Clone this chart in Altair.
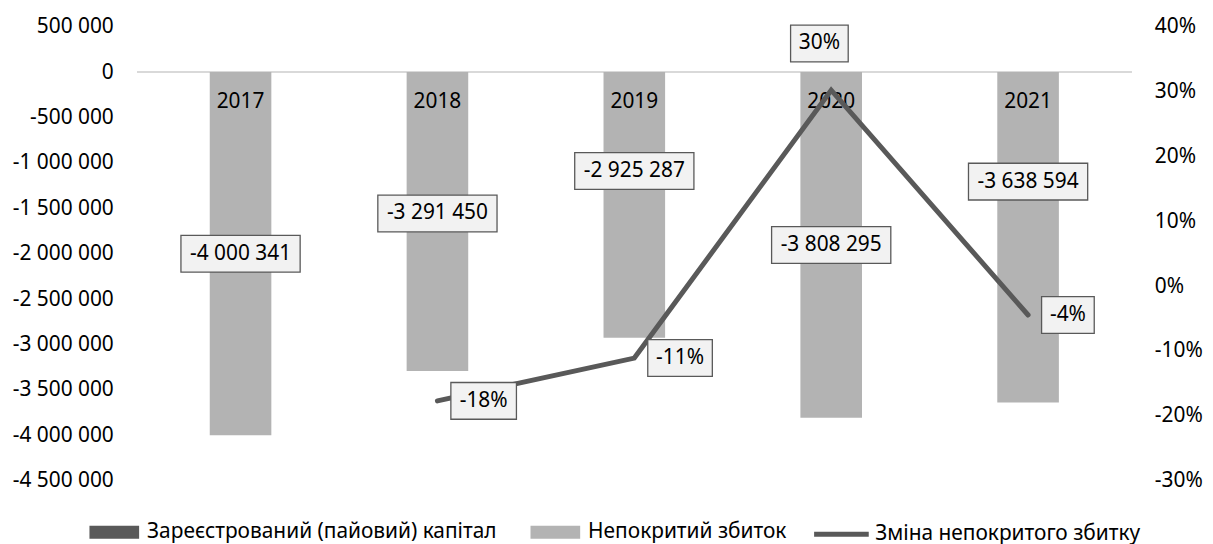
import altair as alt
import pandas as pd

# ---------------- data ----------------
years = [2017, 2018, 2019, 2020, 2021]
loss = [-4000341, -3291450, -2925287, -3808295, -3638594]
change_years = [2018, 2019, 2020, 2021]
change = [-0.177, -0.111, 0.302, -0.0446]

series_capital = "Зареєстрований (пайовий) капітал"
series_loss = "Непокритий збиток"
series_change = "Зміна непокритого збитку"

# ---------------- layout / style ----------------
FONT = "Noto Sans"
FS = 21
W, H = 1001, 457
X_DOM = [2016.5, 2021.5]
YL_DOM = [-4500000, 500000]
YR_DOM = [-0.3, 0.4]
x_per_px = (X_DOM[1] - X_DOM[0]) / W
yl_per_px = (YL_DOM[1] - YL_DOM[0]) / H
yr_per_px = (YR_DOM[1] - YR_DOM[0]) / H

bar_label_shift = [0, -8, -34, 0, -56]      # px, negative = upward
BAR_BOX_W, BOX_H = 120, 37
line_box_w = [66, 65, 58, 53]
line_label_dx = [47, 46.5, -12, 40.5]       # px
line_label_dy = [0, 0, -47, 0]              # px, negative = upward


def box_path(w, h):
    r = h / w
    return f"M-1,-{r:.4f}L1,-{r:.4f}L1,{r:.4f}L-1,{r:.4f}Z"


bars_df = pd.DataFrame({"year": years, "value": loss, "series": series_loss})
bars_df["base"] = 0
bars_df["lab_y"] = [v / 2 - s * yl_per_px for v, s in zip(loss, bar_label_shift)]

line_df = pd.DataFrame({"year": change_years, "change": change, "series": series_change})
line_df["lab_x"] = [y + d * x_per_px for y, d in zip(change_years, line_label_dx)]
line_df["lab_y"] = [c - d * yr_per_px for c, d in zip(change, line_label_dy)]
line_df["path"] = [box_path(w, BOX_H) for w in line_box_w]
line_df["size"] = [w * w for w in line_box_w]

# ---------------- scales / axes ----------------
xs = alt.Scale(domain=X_DOM, nice=False, zero=False)
yls = alt.Scale(domain=YL_DOM, nice=False, zero=False)
yrs = alt.Scale(domain=YR_DOM, nice=False, zero=False)

left_axis = alt.Axis(
    values=list(range(-4500000, 500001, 500000)), format=",.0f", grid=False,
    ticks=False, domain=False, labelPadding=24, labelFontSize=FS,
    labelFont=FONT, labelColor="#000000", title=None,
)
right_axis = alt.Axis(
    orient="right", values=[-0.3, -0.2, -0.1, 0, 0.1, 0.2, 0.3, 0.4], format=".0%",
    grid=False, ticks=False, domain=False, labelPadding=23, labelFontSize=FS,
    labelFont=FONT, labelColor="#000000", title=None,
)

X = alt.X("year:Q", scale=xs, axis=None)

fill_legend = alt.Legend(
    title=None, orient="none", legendX=-48, legendY=484, direction="horizontal",
    symbolType=box_path(50, 13), symbolSize=2500, symbolStrokeWidth=0,
    labelFontSize=FS, labelFont=FONT, labelColor="#000000", labelLimit=0,
    labelOffset=8, columnPadding=34, padding=0,
)
line_legend = alt.Legend(
    title=None, orient="none", legendX=679, legendY=481, direction="horizontal",
    symbolType="stroke", symbolSize=3025, symbolStrokeWidth=5,
    labelFontSize=FS, labelFont=FONT, labelColor="#000000", labelLimit=0,
    labelOffset=4, padding=0,
)

base_bars = alt.Chart(bars_df)

zero_rule = base_bars.mark_rule(color="#d9d9d9", strokeWidth=2).encode(
    y=alt.Y("base:Q", scale=yls, axis=left_axis)
)

bars = base_bars.mark_bar(size=62).encode(
    x=X,
    y=alt.Y("value:Q", scale=yls, axis=left_axis, stack=None),
    color=alt.Color(
        "series:N",
        scale=alt.Scale(domain=[series_capital, series_loss], range=["#595959", "#b3b3b3"]),
        legend=fill_legend,
    ),
)

year_text = base_bars.mark_text(dy=30, fontSize=FS, font=FONT, color="#000000").encode(
    x=X, y=alt.Y("base:Q", scale=yls, axis=left_axis), text="year:N"
)

bar_boxes = base_bars.mark_point(
    shape=box_path(BAR_BOX_W, BOX_H), size=BAR_BOX_W ** 2, filled=True,
    fill="#f2f2f2", stroke="#595959", strokeWidth=1.3, opacity=1,
).encode(x=X, y=alt.Y("lab_y:Q", scale=yls, axis=left_axis))

bar_text = base_bars.mark_text(fontSize=FS, font=FONT, color="#000000").encode(
    x=X, y=alt.Y("lab_y:Q", scale=yls, axis=left_axis),
    text=alt.Text("value:Q", format=","),
)

left = alt.layer(zero_rule, bars, year_text, bar_boxes, bar_text)

base_line = alt.Chart(line_df)

line = base_line.mark_line(strokeWidth=5, strokeCap="round").encode(
    x=X,
    y=alt.Y("change:Q", scale=yrs, axis=right_axis),
    stroke=alt.Stroke(
        "series:N",
        scale=alt.Scale(domain=[series_change], range=["#595959"]),
        legend=line_legend,
    ),
)

line_boxes = base_line.mark_point(
    filled=True, fill="#f2f2f2", stroke="#595959", strokeWidth=1.3, opacity=1,
).encode(
    x=alt.X("lab_x:Q", scale=xs, axis=None),
    y=alt.Y("lab_y:Q", scale=yrs, axis=right_axis),
    shape=alt.Shape("path:N", scale=None, legend=None),
    size=alt.Size("size:Q", scale=None, legend=None),
)

line_text = base_line.mark_text(fontSize=FS, font=FONT, color="#000000").encode(
    x=alt.X("lab_x:Q", scale=xs, axis=None),
    y=alt.Y("lab_y:Q", scale=yrs, axis=right_axis),
    text=alt.Text("change:Q", format=".0%"),
)

right = alt.layer(line, line_boxes, line_text)

chart = (
    alt.layer(left, right)
    .resolve_scale(y="independent")
    .properties(
        width=W, height=H,
        padding={"left": 130, "top": 17, "right": 74, "bottom": 62},
        autosize=alt.AutoSizeParams(type="none"),
        background="white",
    )
    .configure(
        locale=alt.Locale(
            number=alt.NumberLocale(
                decimal=".", thousands=" ", grouping=[3], currency=["", ""], minus="-"
            )
        )
    )
    .configure_view(stroke=None)
)

chart.save("out.html", embed_options={"renderer": "svg", "actions": False})
